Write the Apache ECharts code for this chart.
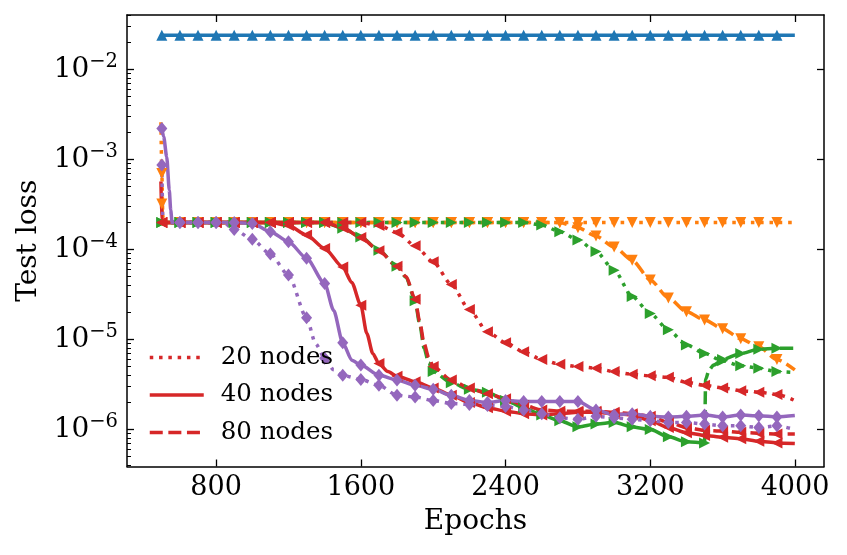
<!DOCTYPE html>
<html><head><meta charset="utf-8">
<script src="https://cdn.jsdelivr.net/npm/echarts@6/dist/echarts.min.js"></script>
<style>html,body{margin:0;padding:0;background:#fff}#c{width:847px;height:555px}</style>
</head><body><div id="c"></div>
<script>
// ---------- data ----------
const epochTicks = [500,600,700,800,900,1000,1100,1200,1300,1400,
  1500,1600,1700,1800,1900,2000,2100,2200,2300,2400,
  2500,2600,2700,2800,2900,3000,3100,3200,3300,3400,
  3500,3600,3700,3800,3900,3999];
const xTickValues = [800,1600,2400,3200,4000];
const yTickValues = [1e-6,1e-5,1e-4,1e-3,1e-2];
const legendNames = ['20 nodes','40 nodes','80 nodes'];

const blueLoss = [2.4e-2,2.4e-2,2.4e-2,2.4e-2,2.4e-2,2.4e-2,2.4e-2,2.4e-2,2.4e-2,2.4e-2,
  2.4e-2,2.4e-2,2.4e-2,2.4e-2,2.4e-2,2.4e-2,2.4e-2,2.4e-2,2.4e-2,2.4e-2,
  2.4e-2,2.4e-2,2.4e-2,2.4e-2,2.4e-2,2.4e-2,2.4e-2,2.4e-2,2.4e-2,2.4e-2,
  2.4e-2,2.4e-2,2.4e-2,2.4e-2,2.4e-2,2.4e-2];

const orangeDottedLoss = [7.0e-4,2e-4,2e-4,2e-4,2e-4,2e-4,2e-4,2e-4,2e-4,2e-4,
  2e-4,2e-4,2e-4,2e-4,2e-4,2e-4,2e-4,2e-4,2e-4,2e-4,
  2e-4,2e-4,2e-4,2e-4,2e-4,2e-4,2e-4,2e-4,2e-4,2e-4,
  2e-4,2e-4,2e-4,2e-4,2e-4,2e-4];
const orangeDottedExtra = [[495,2.6e-3],[506,2.0e-4]];

const orangeDashedLoss = [3.2e-4,2e-4,2e-4,2e-4,2e-4,2e-4,2e-4,2e-4,2e-4,2e-4,
  2e-4,2e-4,2e-4,2e-4,2e-4,2e-4,2e-4,2e-4,2e-4,2e-4,
  2e-4,2e-4,2e-4,1.75e-4,1.41e-4,1.07e-4,7.6e-5,4.6e-5,2.9e-5,2.04e-5,
  1.65e-5,1.32e-5,1.02e-5,8.3e-6,6.0e-6,4.6e-6];
const orangeDashedExtra = [[508,2.0e-4]];

const greenDottedLoss = [2e-4,2e-4,2e-4,2e-4,2e-4,2e-4,2e-4,2e-4,2e-4,2e-4,
  2e-4,2e-4,2e-4,2e-4,2e-4,2e-4,2e-4,2e-4,2e-4,2e-4,
  2e-4,1.87e-4,1.58e-4,1.28e-4,9.5e-5,5.9e-5,3.0e-5,1.95e-5,1.28e-5,8.7e-6,
  7.0e-6,5.8e-6,5.1e-6,4.8e-6,4.4e-6,4.3e-6];

const greenDashedLoss = [2e-4,2e-4,2e-4,2e-4,2e-4,2e-4,2e-4,2e-4,2e-4,2e-4,
  1.72e-4,1.38e-4,9.8e-5,6.5e-5,2.7e-5,4.4e-6,3.3e-6,2.8e-6,2.6e-6,2.1e-6,
  1.75e-6,1.45e-6,1.25e-6,1.07e-6,1.15e-6,1.2e-6,1.07e-6,1.0e-6,8.3e-7,7.3e-7,
  7.1e-7,6.0e-6,7.0e-6,7.8e-6,8.0e-6,8.0e-6];
const greenDashedExtra = [[1850,4.9e-5],[1925,1.5e-5],[1950,8.0e-6],[1975,5.5e-6],
  [3506,3.6e-6],[3525,4.6e-6],[3550,5.2e-6]];

const redDottedLoss = [2e-4,2e-4,2e-4,2e-4,2e-4,2e-4,2e-4,2e-4,2e-4,2e-4,
  2e-4,2e-4,1.85e-4,1.55e-4,1.1e-4,7.3e-5,4.1e-5,2.15e-5,1.22e-5,9.2e-6,
  7.3e-6,6.0e-6,5.3e-6,5.0e-6,4.8e-6,4.4e-6,4.1e-6,3.95e-6,3.8e-6,3.35e-6,
  3.1e-6,2.9e-6,2.7e-6,2.6e-6,2.45e-6,2.1e-6];

const redSolidLoss = [2e-4,2e-4,2e-4,2e-4,2e-4,2e-4,2e-4,1.85e-4,1.45e-4,1.03e-4,
  6.4e-5,2.4e-5,5.4e-6,3.9e-6,3.4e-6,2.9e-6,2.4e-6,2.0e-6,1.75e-6,1.6e-6,
  1.5e-6,1.45e-6,1.5e-6,1.55e-6,1.55e-6,1.5e-6,1.45e-6,1.25e-6,1.05e-6,9.2e-7,
  8.6e-7,8.2e-7,7.9e-7,7.4e-7,7.1e-7,7.0e-7];
const redSolidExtra = [[495,5.7e-4],[1550,4.3e-5],[1633,1.17e-5],[1666,7.0e-6],[1750,4.4e-6]];

const redDashedLoss = [2e-4,2e-4,2e-4,2e-4,2e-4,2e-4,2e-4,2e-4,2e-4,2e-4,
  1.75e-4,1.36e-4,9.7e-5,6.5e-5,2.8e-5,5.0e-6,3.55e-6,2.9e-6,2.5e-6,2.2e-6,
  1.86e-6,1.65e-6,1.6e-6,1.6e-6,1.6e-6,1.55e-6,1.5e-6,1.4e-6,1.2e-6,1.05e-6,
  9.8e-7,9.6e-7,9.3e-7,9.1e-7,8.9e-7,8.9e-7];
const redDashedExtra = [[1850,5.0e-5],[1925,1.6e-5],[1950,9.0e-6],[1975,6.3e-6]];

const purpleDottedLoss = [8.7e-4,2e-4,2e-4,2e-4,1.67e-4,1.3e-4,8.9e-5,5.2e-5,1.75e-5,6.2e-6,
  4.0e-6,3.6e-6,3.1e-6,2.4e-6,2.3e-6,2.1e-6,1.95e-6,1.9e-6,1.85e-6,1.8e-6,
  1.65e-6,1.5e-6,1.35e-6,1.3e-6,1.4e-6,1.35e-6,1.3e-6,1.25e-6,1.2e-6,1.2e-6,
  1.15e-6,1.1e-6,1.1e-6,1.05e-6,1.1e-6,1.0e-6];
const purpleDottedExtra = [[506,2.0e-4],[850,1.92e-4],[1350,9.0e-6],[1450,4.6e-6]];

const purpleSolidLoss = [2.22e-3,2e-4,2e-4,2e-4,2e-4,1.95e-4,1.58e-4,1.22e-4,8.0e-5,4.2e-5,
  9.2e-6,5.2e-6,4.0e-6,3.55e-6,3.1e-6,2.8e-6,2.4e-6,2.1e-6,2.0e-6,2.1e-6,
  2.05e-6,2.05e-6,2.05e-6,2.05e-6,1.65e-6,1.45e-6,1.5e-6,1.4e-6,1.38e-6,1.4e-6,
  1.45e-6,1.38e-6,1.45e-6,1.42e-6,1.38e-6,1.43e-6];
const purpleSolidExtra = [[510,1.8e-3],[527,1.07e-3],[541,4.6e-4],[549,2.75e-4],[556,2.05e-4],
  [1450,2.1e-5],[1550,5.9e-6]];

// ---------- helpers ----------
function build(loss, extra) {
  return epochTicks.map((e, i) => [e, loss[i]]).concat(extra || []).sort((a, b) => a[0] - b[0]);
}
const F = 'DejaVu Serif';
const C = {blue:'#1f77b4', orange:'#ff7f0e', green:'#2ca02c', red:'#d62728', purple:'#9467bd'};
const DOT = [3.5, 5.8], DASH = [13, 5.6];
const XMIN = 307.4, XMAX = 4160.3, YMIN = 3.88e-7, YMAX = 0.0404;
const minorTicks = [];
for (let p = -7; p <= -2; p++) for (let k = 2; k <= 9; k++) {
  const v = k * Math.pow(10, p);
  if (v > YMIN && v < YMAX) minorTicks.push(v);
}
function mk(data, color, dash, symbol, rot, size) {
  return {
    type: 'line', data: data, smooth: 0.25, smoothMonotone: 'x', showAllSymbol: true,
    symbol: symbol, symbolRotate: rot, symbolKeepAspect: true,
    symbolSize: function (v) { return (v[0] % 100 === 0) ? size : 0; },
    lineStyle: {color: color, width: 3.5, type: dash, cap: 'butt'},
    itemStyle: {color: color},
    silent: true, animation: false
  };
}
const tri = 'triangle';
const TS = 11, DS = [11, 13];
const series = [
  mk(build(blueLoss), C.blue, 'solid', tri, 0, TS),
  mk(build(orangeDottedLoss, orangeDottedExtra), C.orange, DOT, tri, 180, TS),
  mk(build(orangeDashedLoss, orangeDashedExtra), C.orange, DASH, tri, 180, TS),
  mk(build(greenDottedLoss), C.green, DOT, tri, -90, TS),
  mk(build(greenDashedLoss, greenDashedExtra), C.green, DASH, tri, -90, TS),
  mk(build(redDottedLoss), C.red, DOT, tri, 90, TS),
  mk(build(redSolidLoss, redSolidExtra), C.red, 'solid', tri, 90, TS),
  mk(build(redDashedLoss, redDashedExtra), C.red, DASH, tri, 90, TS),
  mk(build(purpleDottedLoss, purpleDottedExtra), C.purple, DOT, 'diamond', 0, DS),
  mk(build(purpleSolidLoss, purpleSolidExtra), C.purple, 'solid', 'diamond', 0, DS)
];
[DOT, 'solid', DASH].forEach(function (t, i) {
  series.push({name: legendNames[i], type: 'line', data: [], symbol: 'none', symbolSize: 0, showSymbol: false,
    lineStyle: {color: C.red, width: 3.5, type: t, cap: 'butt'}, itemStyle: {color: C.red}});
});

const axLine = {show: true, onZero: false, lineStyle: {color: '#000', width: 1.5}};
const tickStyle = {color: '#000', width: 1.3};
const option = {
  animation: false,
  grid: {left: 127, right: 23, top: 15, bottom: 88.5, containLabel: false},
  legend: {
    data: legendNames, orient: 'vertical', left: 148, top: 345, padding: 0,
    itemWidth: 54, itemHeight: 23, itemGap: 12.5, selectedMode: false,
    itemStyle: {opacity: 0},
    lineStyle: {width: 3.5},
    textStyle: {fontSize: 24.5, fontFamily: F, color: '#000', padding: [0, 0, 0, 12]}
  },
  xAxis: [
    {type: 'value', min: XMIN, max: XMAX, position: 'bottom', axisLine: axLine,
     axisTick: {show: true, inside: true, length: 7, lineStyle: tickStyle, customValues: xTickValues},
     axisLabel: {customValues: xTickValues, color: '#000', fontSize: 27, fontFamily: F, margin: 8,
       formatter: function (v) { return String(Math.round(v)); }},
     splitLine: {show: false},
     name: 'Epochs', nameLocation: 'middle', nameGap: 41,
     nameTextStyle: {fontSize: 28, fontFamily: F, color: '#000'}},
    {type: 'value', min: XMIN, max: XMAX, position: 'top', axisLine: axLine,
     axisTick: {show: true, inside: true, length: 7, lineStyle: tickStyle, customValues: xTickValues},
     axisLabel: {show: false}, splitLine: {show: false}}
  ],
  yAxis: [
    {type: 'log', min: YMIN, max: YMAX, position: 'left', axisLine: axLine,
     axisTick: {show: true, inside: true, length: 7, lineStyle: tickStyle, customValues: yTickValues},
     axisLabel: {customValues: yTickValues, margin: 9,
       formatter: function (v) {
         const e = Math.round(Math.log10(v));
         return '{b|10}{s|' + (e < 0 ? '\u2212' : '') + Math.abs(e) + '}';
       },
       rich: {b: {fontSize: 28, fontFamily: F, color: '#000'},
              s: {fontSize: 19.5, fontFamily: F, color: '#000', padding: [0, 0, 15, 0]}}},
     splitLine: {show: false}, minorTick: {show: false},
     name: 'Test loss', nameLocation: 'middle', nameGap: 84, nameRotate: 90,
     nameTextStyle: {fontSize: 28, fontFamily: F, color: '#000'}},
    {type: 'log', min: YMIN, max: YMAX, position: 'right', axisLine: axLine,
     axisTick: {show: true, inside: true, length: 7, lineStyle: tickStyle, customValues: yTickValues},
     axisLabel: {show: false}, splitLine: {show: false}},
    {type: 'log', min: YMIN, max: YMAX, position: 'left', axisLine: {show: false},
     axisTick: {show: true, inside: true, length: 4, lineStyle: {color: '#000', width: 1}, customValues: minorTicks},
     axisLabel: {show: false}, splitLine: {show: false}}
  ],
  series: series
};
const chart = echarts.init(document.getElementById('c'), null, {renderer: 'canvas'});
chart.setOption(option);
</script></body></html>
